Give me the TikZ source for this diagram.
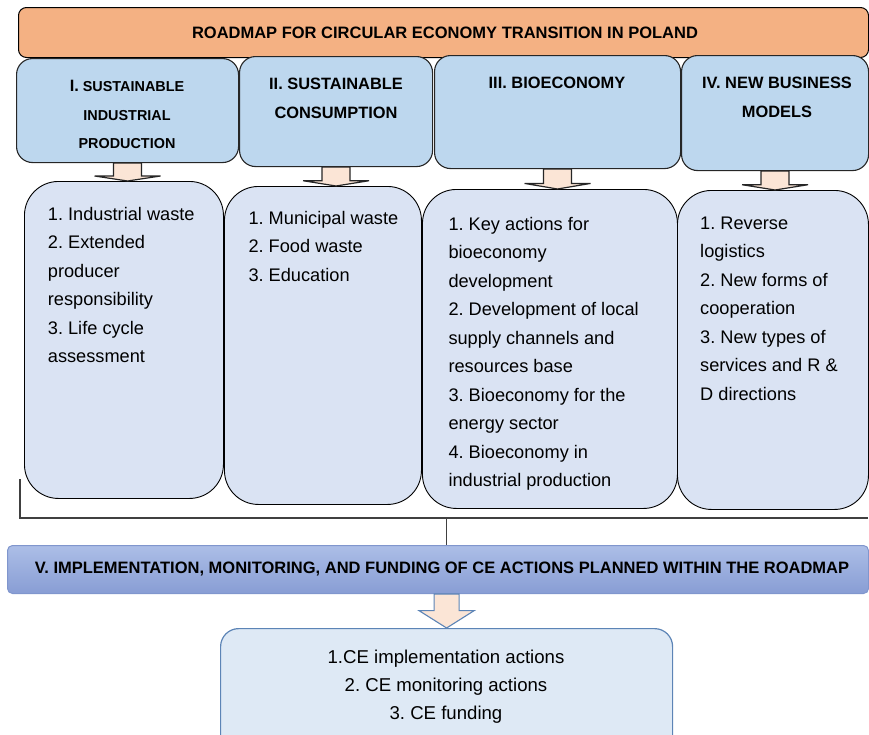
\documentclass[tikz,border=0pt]{standalone}
\usepackage{fontspec}
\setmainfont{Liberation Sans}
\usetikzlibrary{calc}
\frenchspacing
\definecolor{titlefill}{RGB}{244,177,131}
\definecolor{headfill}{RGB}{189,215,238}
\definecolor{itemfill}{RGB}{218,227,243}
\definecolor{arrfill}{RGB}{251,229,214}
\definecolor{vtop}{RGB}{172,190,231}
\definecolor{vbot}{RGB}{136,157,212}
\definecolor{vline}{RGB}{128,150,205}
\definecolor{outfill}{RGB}{222,233,245}
\definecolor{outline}{RGB}{92,132,182}
\tikzset{
 box/.style={draw,anchor=north west,inner sep=0pt},
 titlebox/.style={box,fill=titlefill,rounded corners=8pt,line width=1pt,font=\bfseries\fontsize{16.5}{20}\selectfont},
 headbox/.style={box,fill=headfill,rounded corners=16pt,line width=1.1pt,draw=black!85},
 itembox/.style={box,fill=itemfill,rounded corners=34pt,line width=0.9pt},
 vbox/.style={box,draw=vline,top color=vtop,bottom color=vbot,rounded corners=5pt,line width=1pt,font=\bfseries\fontsize{16.5}{20}\selectfont},
 outbox/.style={box,draw=outline,fill=outfill,rounded corners=18pt,line width=1.2pt},
 headtxt/.style={anchor=north,inner sep=0pt,align=center,font=\bfseries\fontsize{16.4}{28.8}\selectfont},
 itemtxt/.style={anchor=north west,inner sep=0pt,align=left,font=\fontsize{18.2}{28.5}\selectfont},
 outtxt/.style={anchor=north,inner sep=0pt,align=center,font=\fontsize{18.6}{28.3}\selectfont},
 arr/.style={draw=black!85,fill=arrfill,line width=1.2pt,line join=miter},
 arrV/.style={draw=outline,fill=arrfill,line width=1.1pt,line join=miter},
 bracket/.style={draw=black!75,line width=1.6pt}
}
% #2 top, #3 tip, #4 half shaft, #5 half head, #6 neck
\newcommand{\blockarrow}[6][arr]{%
 \draw[#1] ($(#2)+(-#4,0)$) -- ($(#2)!#6!(#3)+(-#4,0)$) -- ($(#2)!#6!(#3)+(-#5,0)$)
 -- (#3) -- ($(#2)!#6!(#3)+(#5,0)$) -- ($(#2)!#6!(#3)+(#4,0)$) -- ($(#2)+(#4,0)$) -- cycle;}
\begin{document}
\begin{tikzpicture}[x=1pt,y=-1pt]
 \useasboundingbox (0,0) rectangle (869,734);
 \node[titlebox,minimum width=850,minimum height=50] (title) at (18,7) {\hspace*{3pt}ROADMAP FOR CIRCULAR ECONOMY TRANSITION IN POLAND};
 \node[itembox,minimum width=199,minimum height=317] (iI) at (24,181) {};
 \node[itembox,minimum width=197,minimum height=318] (iII) at (224,186) {};
 \node[itembox,minimum width=255,minimum height=319] (iIII) at (422,189) {};
 \node[itembox,minimum width=191,minimum height=319] (iIV) at (677,190) {};
 \node[headbox,minimum width=222,minimum height=104] (hI) at (16,58) {};
 \node[headbox,minimum width=193,minimum height=110] (hII) at (239,56) {};
 \node[headbox,minimum width=246,minimum height=113] (hIII) at (434,55) {};
 \node[headbox,minimum width=187,minimum height=115] (hIV) at (681,55) {};
 \foreach \h/\i in {hI/iI,hII/iII,hIII/iIII,hIV/iIV}{
  \path (\h.south) coordinate (at) (\h.south |- \i.north) coordinate (ab);
  \blockarrow{at}{ab}{14}{33}{0.72}
 }
 \node[headtxt,font=\bfseries\fontsize{14.4}{28.3}\selectfont] (tI) at (127,71.8) {\strut{\fontsize{16.4}{28.3}\selectfont I.} SUSTAINABLE\\INDUSTRIAL\\PRODUCTION};
 \node[headtxt] (tII) at (336,69) {\strut II. SUSTAINABLE\\CONSUMPTION};
 \node[headtxt] (tIII) at (557,68) {\strut III. BIOECONOMY};
 \node[headtxt] (tIV) at (777,68) {\strut IV. NEW BUSINESS\\MODELS};
 \node[itemtxt] (lI) at (47.7,200) {\strut 1. Industrial waste\\2. Extended\\producer\\responsibility\\3. Life cycle\\assessment};
 \node[itemtxt] (lII) at (248.3,204) {\strut 1. Municipal waste\\2. Food waste\\3. Education};
 \node[itemtxt] (lIII) at (448.3,210) {\strut 1. Key actions for\\bioeconomy\\development\\2. Development of local\\supply channels and\\resources base\\3. Bioeconomy for the\\energy sector\\4. Bioeconomy in\\industrial production};
 \node[itemtxt] (lIV) at (700,209.3) {\strut 1. Reverse\\logistics\\2. New forms of\\cooperation\\3. New types of\\services and R \&\\D directions};
 \node[vbox,minimum width=861,minimum height=48] (vban) at (7,545) {\hspace*{8pt}V. IMPLEMENTATION, MONITORING, AND FUNDING OF CE ACTIONS PLANNED WITHIN THE ROADMAP};
 \node[outbox,minimum width=452,minimum height=130] (out) at (220,628) {};
 \node[outtxt] (lout) at (446,643.2) {\strut 1.CE implementation actions\\2. CE monitoring actions\\3. CE funding};
 \coordinate (brL) at (20,479);
 \coordinate (brR) at (868,518);
 \draw[bracket] (brL) |- (brR);
 \draw[bracket,line width=1.2pt] (out.north |- brR) -- (out.north |- vban.north);
 \path (out.north |- vban.south) coordinate (at) (out.north) coordinate (ab);
 \blockarrow[arrV]{at}{ab}{12.5}{27.5}{0.49}
\end{tikzpicture}
\end{document}
